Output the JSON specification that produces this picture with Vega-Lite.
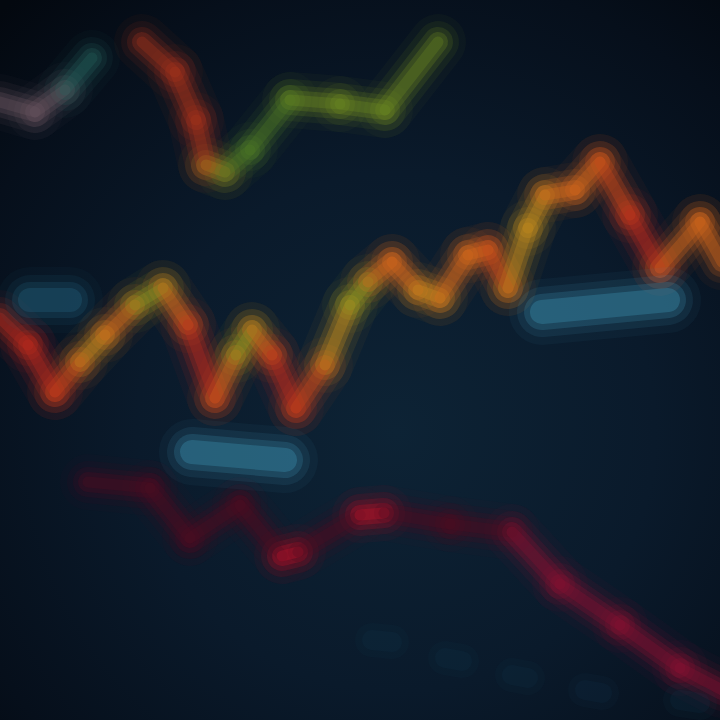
{
  "$schema": "https://vega.github.io/schema/vega-lite/v6.json",
  "autosize": {"type": "none"},
  "width": 720,
  "height": 720,
  "padding": 0,
  "background": "#03080f",
  "config": {"view": {"stroke": null}},
  "data": {
    "values": [
      {"s": "a1", "x": 0, "y": 102, "tone": "mauve"},
      {"s": "a1", "x": 35, "y": 112, "tone": "mauve"},
      {"s": "a1", "x": 65, "y": 90, "tone": "teal"},
      {"s": "a1", "x": 92, "y": 58, "tone": "teal"},
      {"s": "a2", "x": 142, "y": 42, "tone": "rust"},
      {"s": "a2", "x": 175, "y": 72, "tone": "rust"},
      {"s": "a2", "x": 196, "y": 120, "tone": "rust"},
      {"s": "a2", "x": 206, "y": 165, "tone": "ochre"},
      {"s": "a2", "x": 225, "y": 172, "tone": "moss"},
      {"s": "a2", "x": 250, "y": 150, "tone": "moss"},
      {"s": "a2", "x": 290, "y": 100, "tone": "olive2"},
      {"s": "a2", "x": 340, "y": 104, "tone": "olive2"},
      {"s": "a2", "x": 385, "y": 110, "tone": "olive2"},
      {"s": "a2", "x": 438, "y": 42, "tone": "olivedim"},
      {"s": "b", "x": 0, "y": 318, "tone": "red"},
      {"s": "b", "x": 28, "y": 345, "tone": "red"},
      {"s": "b", "x": 55, "y": 392, "tone": "redorange"},
      {"s": "b", "x": 80, "y": 362, "tone": "amber"},
      {"s": "b", "x": 105, "y": 335, "tone": "orange"},
      {"s": "b", "x": 135, "y": 305, "tone": "olive"},
      {"s": "b", "x": 163, "y": 288, "tone": "orange"},
      {"s": "b", "x": 188, "y": 325, "tone": "red"},
      {"s": "b", "x": 215, "y": 398, "tone": "orange"},
      {"s": "b", "x": 236, "y": 355, "tone": "olive"},
      {"s": "b", "x": 252, "y": 330, "tone": "orange"},
      {"s": "b", "x": 272, "y": 355, "tone": "red"},
      {"s": "b", "x": 296, "y": 408, "tone": "redorange"},
      {"s": "b", "x": 325, "y": 365, "tone": "amber"},
      {"s": "b", "x": 350, "y": 305, "tone": "olive"},
      {"s": "b", "x": 368, "y": 282, "tone": "orange"},
      {"s": "b", "x": 392, "y": 262, "tone": "orange"},
      {"s": "b", "x": 418, "y": 290, "tone": "amber"},
      {"s": "b", "x": 440, "y": 298, "tone": "orange"},
      {"s": "b", "x": 468, "y": 255, "tone": "orange"},
      {"s": "b", "x": 488, "y": 250, "tone": "redorange"},
      {"s": "b", "x": 508, "y": 288, "tone": "amber"},
      {"s": "b", "x": 528, "y": 228, "tone": "amber"},
      {"s": "b", "x": 545, "y": 195, "tone": "orange"},
      {"s": "b", "x": 575, "y": 190, "tone": "orange"},
      {"s": "b", "x": 600, "y": 162, "tone": "redorange"},
      {"s": "b", "x": 630, "y": 215, "tone": "red"},
      {"s": "b", "x": 660, "y": 268, "tone": "orange"},
      {"s": "b", "x": 700, "y": 222, "tone": "orange"},
      {"s": "b", "x": 722, "y": 262, "tone": "redorange"},
      {"s": "c", "x": 88, "y": 482, "tone": "cdim"},
      {"s": "c", "x": 150, "y": 488, "tone": "cdim"},
      {"s": "c", "x": 190, "y": 538, "tone": "cdim"},
      {"s": "c", "x": 240, "y": 505, "tone": "cdim"},
      {"s": "c", "x": 282, "y": 556, "tone": "rbright"},
      {"s": "c", "x": 298, "y": 552, "tone": "cdim"},
      {"s": "c", "x": 360, "y": 515, "tone": "rbright"},
      {"s": "c", "x": 384, "y": 513, "tone": "cdim"},
      {"s": "c", "x": 450, "y": 524, "tone": "cdim"},
      {"s": "c", "x": 512, "y": 532, "tone": "cmid"},
      {"s": "c", "x": 560, "y": 584, "tone": "cmid"},
      {"s": "c", "x": 620, "y": 625, "tone": "cmid"},
      {"s": "c", "x": 680, "y": 668, "tone": "cmid"},
      {"s": "c", "x": 722, "y": 690, "tone": "cmid"},
      {"s": "k1", "x": 192, "y": 452, "tone": "cyan"},
      {"s": "k1", "x": 285, "y": 460, "tone": "cyan"},
      {"s": "k2", "x": 542, "y": 312, "tone": "cyan"},
      {"s": "k2", "x": 668, "y": 300, "tone": "cyan"},
      {"s": "k3", "x": 30, "y": 300, "tone": "tealbar"},
      {"s": "k3", "x": 70, "y": 300, "tone": "tealbar"},
      {"s": "d1", "x": 372, "y": 640, "tone": "blue"},
      {"s": "d1", "x": 392, "y": 642, "tone": "blue"},
      {"s": "d2", "x": 445, "y": 658, "tone": "blue"},
      {"s": "d2", "x": 462, "y": 661, "tone": "blue"},
      {"s": "d3", "x": 512, "y": 675, "tone": "blue"},
      {"s": "d3", "x": 528, "y": 678, "tone": "blue"},
      {"s": "d4", "x": 585, "y": 690, "tone": "blue"},
      {"s": "d4", "x": 602, "y": 693, "tone": "blue"},
      {"s": "d5", "x": 680, "y": 700, "tone": "blue"},
      {"s": "d5", "x": 700, "y": 703, "tone": "blue"}
    ]
  },
  "encoding": {
    "x": {"type": "quantitative", "scale": {"domain": [0, 720], "nice": false, "zero": false}, "axis": null},
    "y": {"type": "quantitative", "scale": {"domain": [0, 720], "nice": false, "zero": false, "reverse": true}, "axis": null}
  },
  "layer": [
    {
      "mark": {"type": "rect", "color": {"gradient": "radial", "x1": 0.55, "y1": 0.6, "x2": 0.55, "y2": 0.6, "r1": 0, "r2": 0.8, "stops": [{"offset": 0, "color": "#0d2335"}, {"offset": 0.45, "color": "#0a1a2b"}, {"offset": 0.8, "color": "#060f1b"}, {"offset": 1, "color": "#03080f"}]}},
      "encoding": {
        "x": {"datum": 0, "type": "quantitative"},
        "x2": {"datum": 720},
        "y": {"datum": 0, "type": "quantitative"},
        "y2": {"datum": 720}
      }
    },
    {
      "transform": [
        {"window": [{"op": "lead", "field": "x", "as": "x2"}, {"op": "lead", "field": "y", "as": "y2"}], "groupby": ["s"], "sort": [{"field": "x"}]},
        {"filter": "datum.x2 != null"}
      ],
      "encoding": {
        "x": {"field": "x", "type": "quantitative"},
        "y": {"field": "y", "type": "quantitative"},
        "x2": {"field": "x2"},
        "y2": {"field": "y2"},
        "color": {
          "field": "tone", "type": "nominal", "legend": null,
          "scale": {
            "domain": ["red", "redorange", "orange", "amber", "olive", "olive2", "moss", "olivedim", "rust", "ochre", "teal", "mauve", "cyan", "tealbar", "cdim", "cmid", "rbright", "blue"],
            "range": ["#c02a1e", "#d24a1a", "#dc6a1c", "#c9901e", "#8a9a22", "#6e8a20", "#4e7a26", "#4e5a18", "#a8341c", "#a8801c", "#26625e", "#6a5560", "#3f98b8", "#24647e", "#4e0c22", "#8a1232", "#c8142a", "#143650"]
          }
        }
      },
      "layer": [
        {"transform": [{"filter": "datum.s == 'a1' || datum.s == 'a2' || datum.s == 'b' || datum.s == 'c'"}],
         "layer": [
           {"mark": {"type": "rule", "strokeWidth": 56, "opacity": 0.05, "strokeCap": "round", "clip": true}},
           {"mark": {"type": "rule", "strokeWidth": 42, "opacity": 0.1, "strokeCap": "round", "clip": true}},
           {"mark": {"type": "rule", "strokeWidth": 30, "opacity": 0.18, "strokeCap": "round", "clip": true}},
           {"mark": {"type": "rule", "strokeWidth": 20, "opacity": 0.28, "strokeCap": "round", "clip": true}},
           {"mark": {"type": "rule", "strokeWidth": 11, "opacity": 0.3, "strokeCap": "round", "clip": true}}
         ]},
        {"transform": [{"filter": "datum.s == 'k1' || datum.s == 'k2' || datum.s == 'k3'"}],
         "layer": [
           {"mark": {"type": "rule", "strokeWidth": 66, "opacity": 0.06, "strokeCap": "round", "clip": true}},
           {"mark": {"type": "rule", "strokeWidth": 50, "opacity": 0.12, "strokeCap": "round", "clip": true}},
           {"mark": {"type": "rule", "strokeWidth": 36, "opacity": 0.22, "strokeCap": "round", "clip": true}},
           {"mark": {"type": "rule", "strokeWidth": 24, "opacity": 0.32, "strokeCap": "round", "clip": true}}
         ]},
        {"transform": [{"filter": "indexof(datum.s, 'd') == 0"}],
         "layer": [
           {"mark": {"type": "rule", "strokeWidth": 34, "opacity": 0.1, "strokeCap": "round", "clip": true}},
           {"mark": {"type": "rule", "strokeWidth": 20, "opacity": 0.16, "strokeCap": "round", "clip": true}}
         ]}
      ]
    }
  ]
}
